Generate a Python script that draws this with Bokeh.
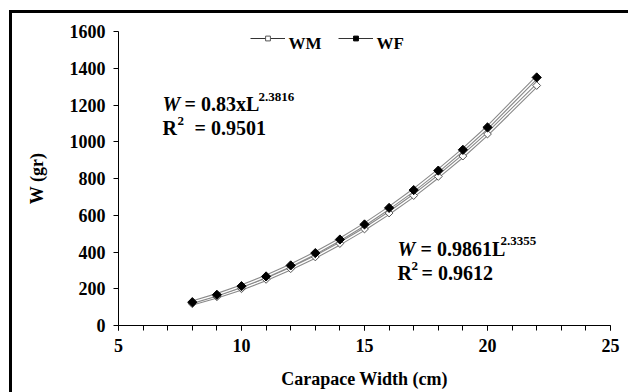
from bokeh.plotting import figure
from bokeh.models import (Range1d, SingleIntervalTicker, Label,
                          Legend, LegendItem, ColumnDataSource)
from bokeh.embed import file_html
from bokeh.resources import INLINE

# ---- data ----
length_cm = [8, 9, 10, 11, 12, 13, 14, 15, 16, 17, 18, 19, 20, 22]
wm_weight = [118, 156, 200, 251, 309, 373, 446, 525, 612, 707, 811, 922, 1042, 1306]
wf_weight = [127, 167, 214, 267, 327, 394, 468, 550, 640, 737, 843, 956, 1078, 1350]
series_names = ["WM", "WF"]
x_title = "Carapace Width (cm)"
y_title = "W (gr)"

FONT = "Liberation Serif"

p = figure(width=628, height=392, output_backend="svg", toolbar_location=None,
           x_range=Range1d(5, 25), y_range=Range1d(0, 1600),
           min_border_left=118, min_border_right=18, min_border_top=31,
           min_border_bottom=67, background_fill_color="white",
           border_fill_color="white")
p.outline_line_color = None
p.xgrid.grid_line_color = None
p.ygrid.grid_line_color = None
p.stylesheets = [":host { position: relative; } :host::after { content: ''; position: absolute; "
                 "left: 9px; top: 10px; width: 700px; height: 500px; "
                 "border-left: 3px solid black; border-top: 3px solid black; "
                 "pointer-events: none; z-index: 10; }"]

# axes
xa = p.xaxis[0]
xa.ticker = SingleIntervalTicker(interval=5, num_minor_ticks=5)
xa.major_tick_in = 0
xa.major_tick_out = 5
xa.minor_tick_in = 0
xa.minor_tick_out = 5
xa.axis_line_color = "black"
xa.major_tick_line_color = "black"
xa.minor_tick_line_color = "black"
xa.major_label_text_font = FONT
xa.major_label_text_font_style = "bold"
xa.major_label_text_font_size = "18px"
xa.major_label_text_color = "black"
xa.major_label_standoff = 8
xa.axis_label = x_title
xa.axis_label_text_font = FONT
xa.axis_label_text_font_style = "bold"
xa.axis_label_text_font_size = "18px"
xa.axis_label_text_color = "black"
xa.axis_label_standoff = 14

ya = p.yaxis[0]
ya.ticker = SingleIntervalTicker(interval=200, num_minor_ticks=0)
ya.major_tick_in = 0
ya.major_tick_out = 5
ya.minor_tick_line_color = None
ya.axis_line_color = "black"
ya.major_tick_line_color = "black"
ya.major_label_text_font = FONT
ya.major_label_text_font_style = "bold"
ya.major_label_text_font_size = "18px"
ya.major_label_text_color = "black"
ya.major_label_standoff = 8
ya.axis_label = y_title
ya.axis_label_text_font = FONT
ya.axis_label_text_font_style = "bold"
ya.axis_label_text_font_size = "18px"
ya.axis_label_text_color = "black"
ya.axis_label_standoff = 20

src = ColumnDataSource(dict(x=length_cm, wm=wm_weight, wf=wf_weight))

# double-outline lines
for col in ["wm", "wf"]:
    p.line("x", col, source=src, line_color="#8a8a8a", line_width=3.6)
    p.line("x", col, source=src, line_color="white", line_width=1.4)

wm_pts = p.scatter("x", "wm", source=src, marker="square", angle=0.785398,
                   size=5.5, fill_color="white", line_color="#555555", line_width=1)
wf_pts = p.scatter("x", "wf", source=src, marker="square", angle=0.785398,
                   size=6.5, fill_color="black", line_color="black", line_width=1)

# legend-only line glyph (no visible points in the plot)
nan = float("nan")
lg_src = ColumnDataSource(dict(x=[nan], y=[nan]))
lg_line = p.line("x", "y", source=lg_src, line_color="#333333", line_width=1)

legend = Legend(items=[LegendItem(label=" ", renderers=[lg_line, wm_pts]),
                       LegendItem(label=" ", renderers=[lg_line, wf_pts])],
                orientation="horizontal", location=(132, 281),
                glyph_width=35, glyph_height=12, label_standoff=0, spacing=0,
                label_width=53, padding=0, margin=0, label_height=12,
                label_text_font_size="10px",
                border_line_alpha=0, background_fill_alpha=0)
p.add_layout(legend, "center")

def txt(s, x, y, size="20px", style="bold", font=FONT):
    p.add_layout(Label(x=x, y=y, x_units="canvas", y_units="canvas", text=s,
                       text_font=font, text_font_style=style, text_font_size=size,
                       text_color="black", text_baseline="alphabetic",
                       text_align="left"))

# legend texts
txt(series_names[0], 288, 43, size="17px")
txt(series_names[1], 376, 43, size="17px")

# equation 1
txt("W", 162, 103, style="bold italic")
txt("= 0.83xL", 184, 103)
txt("2.3816", 258, 96, size="13px")
txt("R", 162, 127)
txt("2", 177, 120, size="13px")
txt("= 0.9501", 194, 127)
# equation 2
txt("W", 397, 248, style="bold italic")
txt("= 0.9861L", 420, 248)
txt("2.3355", 500, 240, size="13px")
txt("R", 397, 272)
txt("2", 411, 265, size="13px")
txt("= 0.9612", 421, 272)

open("out.html", "w").write(file_html(p, INLINE))
